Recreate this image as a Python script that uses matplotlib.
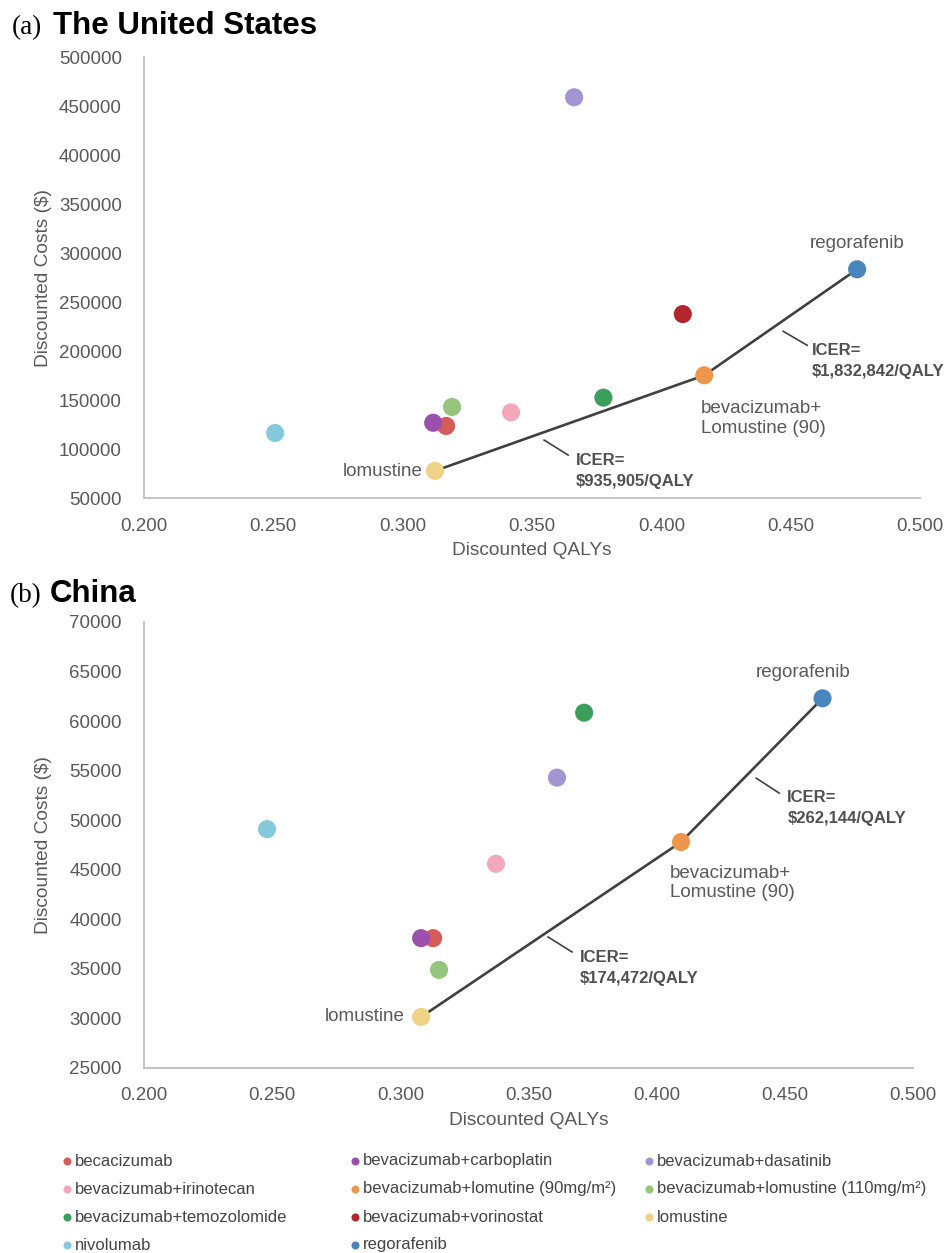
import numpy as np
import matplotlib
matplotlib.use("Agg")
import matplotlib.pyplot as plt
from matplotlib.lines import Line2D
from matplotlib.ticker import MultipleLocator, FormatStrFormatter

plt.rcParams['font.family'] = ['Liberation Sans', 'DejaVu Sans']

# ---------------- data ----------------
treatments = ["becacizumab", "bevacizumab+carboplatin", "bevacizumab+dasatinib",
              "bevacizumab+irinotecan", "bevacizumab+lomutine (90mg/m²)",
              "bevacizumab+lomustine (110mg/m²)", "bevacizumab+temozolomide",
              "bevacizumab+vorinostat", "lomustine", "nivolumab", "regorafenib"]
colors = ["#D65C5A", "#9B50AE", "#A394D3", "#F2A8BA", "#F0964C", "#95C47D",
          "#3B9E5A", "#B1272D", "#F0D286", "#86C9DA", "#4A86BE"]

us_qaly = [0.3168, 0.3118, 0.3663, 0.3419, 0.4166, 0.3191, 0.3776, 0.4083, 0.3125, 0.2507, 0.4757]
us_cost = [123800, 127100, 459200, 137700, 175500, 143200, 152700, 238000, 78000, 116600, 283700]

cn_qaly = [0.3128, 0.3081, 0.3611, 0.3373, 0.4095, 0.3151, 0.3717, np.nan, 0.3081, 0.2480, 0.4647]
cn_cost = [38100, 38100, 54300, 45600, 47800, 34900, 60850, np.nan, 30150, 49100, 62300]

frontier = [8, 4, 10]  # lomustine -> bevacizumab+Lomustine(90) -> regorafenib
us_icer = ["ICER=\n$935,905/QALY", "ICER=\n$1,832,842/QALY"]
cn_icer = ["ICER=\n$174,472/QALY", "ICER=\n$262,144/QALY"]

# ---------------- figure ----------------
W, H = 947, 1253
fig = plt.figure(figsize=(W / 100, H / 100), dpi=100)

def px_rect(l, r, t, b):
    return [l / W, 1 - b / H, (r - l) / W, (b - t) / H]

ax1 = fig.add_axes(px_rect(144, 920, 57.3, 498.3))
ax2 = fig.add_axes(px_rect(144, 913, 622, 1068))

TICK_C = "#595959"
TXT_C = "#595959"

def style(ax, ylim, ystep, hpx, wpx):
    ax.set_xlim(0.2, 0.5)
    ax.set_ylim(*ylim)
    ax.xaxis.set_major_locator(MultipleLocator(0.05))
    ax.xaxis.set_major_formatter(FormatStrFormatter('%.3f'))
    ax.yaxis.set_major_locator(MultipleLocator(ystep))
    ax.yaxis.set_major_formatter(FormatStrFormatter('%d'))
    for s in ['top', 'right']:
        ax.spines[s].set_visible(False)
    for s in ['left', 'bottom']:
        ax.spines[s].set_color("#BFBFBF")
        ax.spines[s].set_linewidth(1.3)
    ax.tick_params(length=0, labelsize=13.5, colors=TICK_C)
    ax.tick_params(axis='y', pad=16)
    ax.tick_params(axis='x', pad=14)
    ax.set_xlabel("Discounted QALYs", fontsize=13.8, color=TXT_C)
    ax.set_ylabel("Discounted Costs ($)", fontsize=13.8, color=TXT_C)
    ax.xaxis.set_label_coords(0.5, -44 / hpx)
    ax.yaxis.set_label_coords(-92 / wpx, 0.5)

style(ax1, (50000, 500000), 50000, 441, 776)
style(ax2, (25000, 70000), 5000, 446, 769)

def draw_panel(ax, q, c, icer, offs):
    q = np.asarray(q, float)
    c = np.asarray(c, float)
    ax.plot(q[frontier], c[frontier], color="#404040", lw=1.9, zorder=2)
    for i in range(len(treatments)):
        if np.isnan(q[i]):
            continue
        ax.scatter(q[i], c[i], s=170, color=colors[i], edgecolors='none', zorder=3)
    lo, mid, hi = frontier
    # point labels
    ax.annotate("lomustine", xy=(q[lo], c[lo]), xytext=offs['lom'], textcoords='offset pixels',
                ha='right', va='center', fontsize=13.5, color=TXT_C)
    ax.annotate("regorafenib", xy=(q[hi], c[hi]), xytext=offs['reg'], textcoords='offset pixels',
                ha='center', va='center', fontsize=13.5, color=TXT_C)
    ax.annotate("bevacizumab+\nLomustine (90)", xy=(q[mid], c[mid]), xytext=offs['mid'],
                textcoords='offset pixels', ha='left', va='center', fontsize=13.5,
                color=TXT_C, linespacing=1.2)
    # ICER labels with leader lines
    segs = [(lo, mid), (mid, hi)]
    for k, (a, b) in enumerate(segs):
        m = ((q[a] + q[b]) / 2, (c[a] + c[b]) / 2)
        md = ax.transData.transform(m)
        (x1, y1), (x2, y2), (tx, ty) = offs['icer'][k]
        p1 = fig.transFigure.inverted().transform((md[0] + x1, md[1] + y1))
        p2 = fig.transFigure.inverted().transform((md[0] + x2, md[1] + y2))
        fig.add_artist(Line2D([p1[0], p2[0]], [p1[1], p2[1]], color="#404040", lw=1.2))
        ax.annotate(icer[k], xy=m, xytext=(tx, ty), textcoords='offset pixels',
                    ha='left', va='center', fontsize=12.0, fontweight='bold',
                    color="#505050", linespacing=1.5)

draw_panel(ax1, us_qaly, us_cost, us_icer, {
    'lom': (-12, -1), 'reg': (0, 26), 'mid': (-3, -43),
    'icer': [((-25.5, -17), (-1.5, -32), (6.5, -48)),
             ((2.5, -9), (26.5, -23), (31.5, -39))]})
draw_panel(ax2, cn_qaly, cn_cost, cn_icer, {
    'lom': (-16, 0), 'reg': (-19, 26), 'mid': (-11, -41),
    'icer': [((-3, -7.5), (21, -22.5), (29, -39)),
             ((4.5, -8), (27.5, -23), (35.5, -37.5))]})

# ---------------- titles ----------------
fig.text(12 / W, 1 - 34 / H, "(a)", family=['Liberation Serif'], fontsize=19.5, va='baseline')
fig.text(53 / W, 1 - 34 / H, "The United States", fontsize=22.5, fontweight='bold', va='baseline')
fig.text(10 / W, 1 - 602 / H, "(b)", family=['Liberation Serif'], fontsize=19.5, va='baseline')
fig.text(50 / W, 1 - 602 / H, "China", fontsize=22.5, fontweight='bold', va='baseline')

# ---------------- legend ----------------
col_x = [66.7, 355, 649]
row_y0, row_h = 1161, 28
for i, name in enumerate(treatments):
    r, cidx = divmod(i, 3)
    x = col_x[cidx]
    y = row_y0 + r * row_h
    fig.add_artist(Line2D([x / W], [1 - y / H], marker='o', markersize=5.8, color=colors[i],
                          markeredgewidth=0, linestyle='none'))
    fig.text((x + 8) / W, 1 - y / H, name, fontsize=12.0, color="#444444", va='center', ha='left')

fig.savefig("out.png", dpi=100)
